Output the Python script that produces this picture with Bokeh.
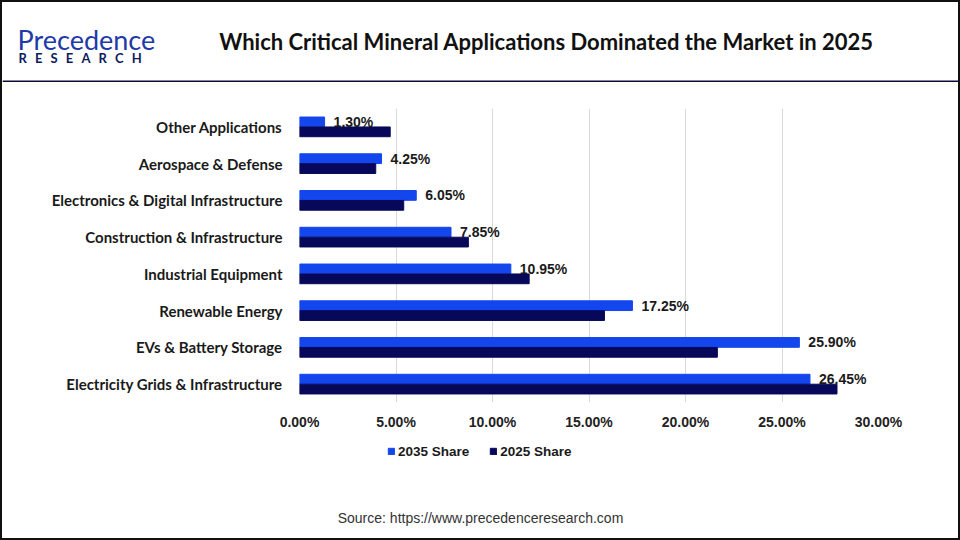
from bokeh.plotting import figure
from bokeh.layouts import column
from bokeh.models import (FactorRange, Range1d, Label, Legend, LegendItem,
                          ColumnDataSource, FixedTicker)
from bokeh.transform import dodge
from bokeh.core.properties import value
from bokeh.embed import file_html
from bokeh.resources import INLINE

# ---------------- data ----------------
categories = [
    "Electricity Grids & Infrastructure",
    "EVs & Battery Storage",
    "Renewable Energy",
    "Industrial Equipment",
    "Construction & Infrastructure",
    "Electronics & Digital Infrastructure",
    "Aerospace & Defense",
    "Other Applications",
]
share_2035 = [26.45, 25.90, 17.25, 10.95, 7.85, 6.05, 4.25, 1.30]
share_2025 = [27.85, 21.65, 15.80, 11.90, 8.75, 5.40, 3.95, 4.70]
labels_2035 = ["26.45%", "25.90%", "17.25%", "10.95%", "7.85%", "6.05%", "4.25%", "1.30%"]
x_ticks = [0, 5, 10, 15, 20, 25, 30]
x_tick_labels = ["0.00%", "5.00%", "10.00%", "15.00%", "20.00%", "25.00%", "30.00%"]
series_names = ["2035 Share", "2025 Share"]

title_text = "Which Critical Mineral Applications Dominated the Market in 2025"
source_text = "Source: https://www.precedenceresearch.com"

BLUE = "#1446EE"
NAVY = "#08085A"
W = 956
H_HEAD, H_MAIN, H_FOOT = 80, 353, 103


def blank(height):
    f = figure(width=W, height=height, x_range=Range1d(0, W), y_range=Range1d(height, 0),
               output_backend="svg", toolbar_location=None,
               x_axis_type=None, y_axis_type=None, frame_align=False,
               min_border_left=0, min_border_right=0, min_border_top=0, min_border_bottom=0)
    f.outline_line_color = None
    f.grid.grid_line_color = None
    f.background_fill_color = "white"
    f.border_fill_color = "white"
    return f


# ---------------- header ----------------
head = blank(H_HEAD)
head.add_layout(Label(x=15, y=37, text="Precedence",
                      text_font="Lato", text_font_size="27px", text_color="#1f3aa8",
                      text_baseline="alphabetic"))
sp = "\u2002\u2009"
head.add_layout(Label(x=16, y=55, text=sp.join("RESEARCH"),
                      text_font="Lato", text_font_style="bold", text_font_size="13px",
                      text_color="#0d1b5e", text_baseline="alphabetic"))
head.add_layout(Label(x=544, y=39, text=title_text,
                      text_font="Lato", text_font_style="bold", text_font_size="22px",
                      text_color="#111111", text_align="center", text_baseline="middle"))
head.quad(left=0, right=W, top=78, bottom=80, fill_color="#0a0a3a", line_color=None)

# ---------------- main chart ----------------
src = ColumnDataSource(dict(cat=categories, s35=share_2035, s25=share_2025, lab=labels_2035))

p = figure(width=W, height=H_MAIN, y_range=FactorRange(factors=categories), x_range=Range1d(0, 30),
           output_backend="svg", toolbar_location=None, frame_align=False,
           min_border_left=297, min_border_right=80, min_border_top=26, min_border_bottom=33)
p.outline_line_color = None
p.background_fill_color = "white"
p.border_fill_color = "white"

r35 = p.hbar(y=dodge("cat", 0.135, range=p.y_range), right="s35", left=0, height=0.265,
             color=BLUE, source=src)
r25 = p.hbar(y=dodge("cat", -0.135, range=p.y_range), right="s25", left=0, height=0.265,
             color=NAVY, source=src)

p.text(x="s35", y=dodge("cat", 0.135, range=p.y_range), text="lab", source=src,
       x_offset=9, text_baseline="middle", text_align="left",
       text_font=value("Liberation Sans"), text_font_style="bold", text_font_size="14px",
       text_color="#1a1a1a")

p.xaxis.ticker = FixedTicker(ticks=x_ticks)
p.xaxis.major_label_overrides = {t: l for t, l in zip(x_ticks, x_tick_labels)}
p.xaxis.axis_line_color = None
p.xaxis.major_tick_line_color = None
p.xaxis.minor_tick_line_color = None
p.xaxis.major_tick_out = 0
p.xaxis.major_tick_in = 0
p.xaxis.major_label_standoff = 11
p.xaxis.major_label_text_font = "Liberation Sans"
p.xaxis.major_label_text_font_style = "bold"
p.xaxis.major_label_text_font_size = "14px"
p.xaxis.major_label_text_color = "#222222"

p.yaxis.axis_line_color = None
p.yaxis.major_tick_line_color = None
p.yaxis.minor_tick_line_color = None
p.yaxis.major_tick_out = 0
p.yaxis.major_tick_in = 0
p.yaxis.major_label_standoff = 17
p.yaxis.major_label_text_font = "Lato"
p.yaxis.major_label_text_font_style = "bold"
p.yaxis.major_label_text_font_size = "15px"
p.yaxis.major_label_text_color = "#1a1a1a"

p.xgrid.ticker = FixedTicker(ticks=x_ticks)
p.xgrid.grid_line_color = "#d9d9d9"
p.ygrid.grid_line_color = None

# ---------------- footer: legend + source ----------------
foot = blank(H_FOOT)
k35 = foot.hbar(y=0, right="s35", left=0, height=0.5, color=BLUE, source=src, visible=False)
k25 = foot.hbar(y=0, right="s25", left=0, height=0.5, color=NAVY, source=src, visible=False)
legend = Legend(items=[LegendItem(label=series_names[0], renderers=[k35]),
                       LegendItem(label=series_names[1], renderers=[k25])],
                orientation="horizontal", location=(385, 79),
                glyph_width=8, glyph_height=8, label_height=16, label_standoff=3,
                spacing=20, padding=0, margin=0,
                border_line_color=None, background_fill_alpha=0,
                inactive_fill_alpha=0, click_policy="none",
                label_text_font="Liberation Sans", label_text_font_style="bold",
                label_text_font_size="13.5px", label_text_color="#1a1a1a")
foot.add_layout(legend, "center")
foot.add_layout(Label(x=478, y=82, text=source_text,
                      text_font="Liberation Sans", text_font_size="14px",
                      text_color="#333333", text_align="center", text_baseline="middle"))

page = column(head, p, foot, spacing=0, styles={"border": "2px solid #111111"})
open("out.html", "w").write(file_html(page, INLINE))
